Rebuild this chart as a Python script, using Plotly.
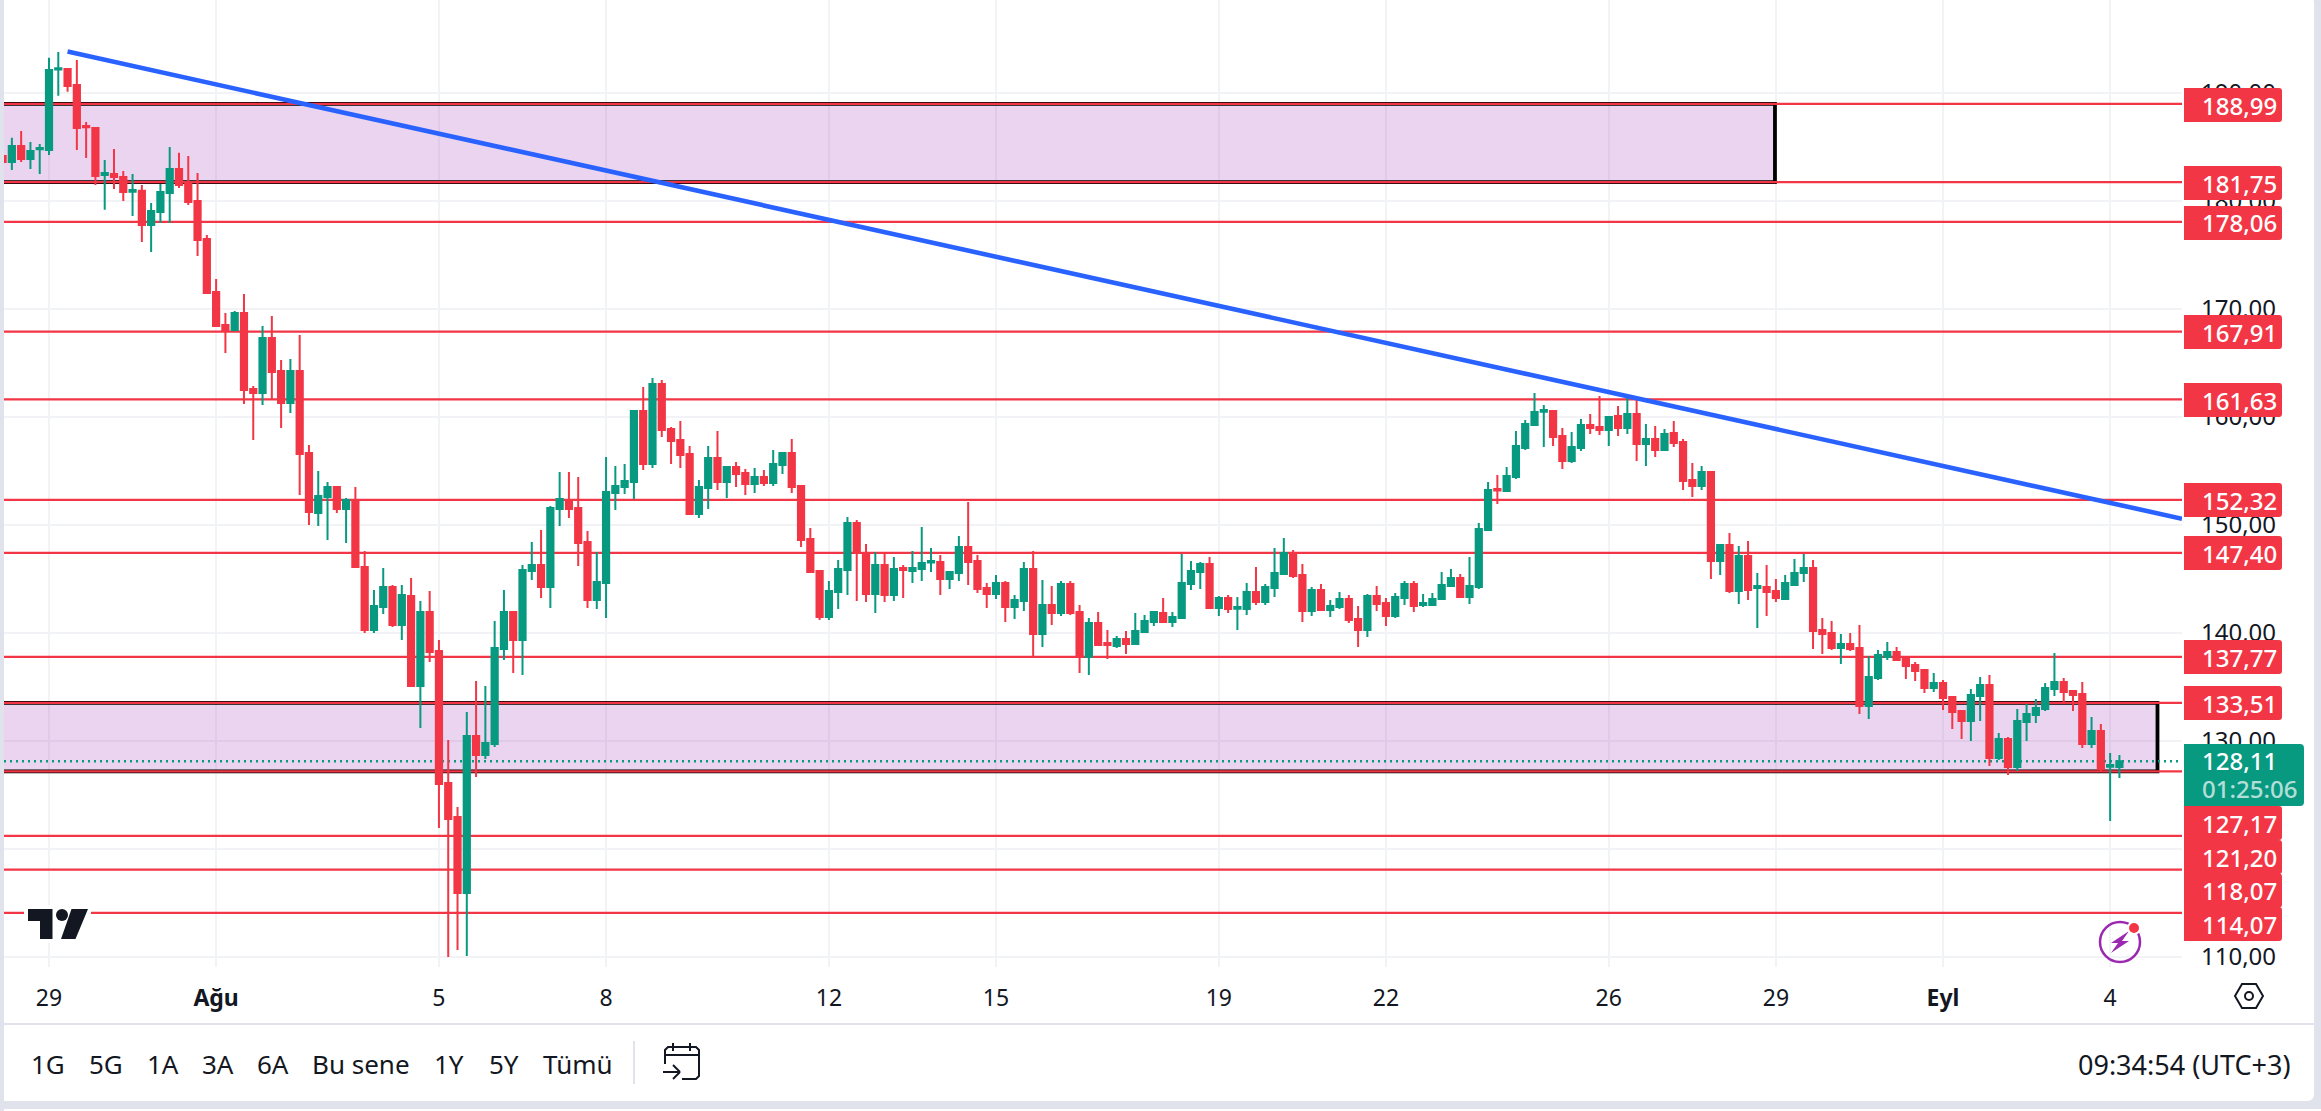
import plotly.graph_objects as go

# ---------- data ----------
first_index = -5
direction = ("rgrggggrrr" "rgrrgrgggr" "rrrrrgrrgr" "rgrrggrgrr" "ggrgrgrrrr" "grgggrggrg"
             "grrrgggggr" "grrrrggrgr" "rgrggrrrrg" "ggrrgrgrgg" "grggrrrgrg" "grgrgrrgrr"
             "grgggrgggg" "rgrggrgggr" "rgrggrrgrr" "ggrggggrgg" "grgggggrrg" "grrgrgrgrg"
             "rrrgrgrgrg" "rrgggrrrgr" "rgggrrrrgr" "rrggrgrggg" "ggrrrgrgg")
highs = [
184.18,185.85,186.49,185.47,185.29,193.26,193.81,192.24,193.07,187.33,
186.77,183.81,184.83,182.79,182.51,181.49,179.82,181.58,185.01,184.46,
184.18,182.60,176.86,172.78,169.63,169.82,171.39,162.87,168.43,169.36,
165.28,165.37,167.59,157.40,154.99,153.98,153.51,152.49,153.51,147.58,
143.97,146.01,144.43,144.43,145.08,142.95,143.88,139.34,130.07,123.86,
132.66,135.53,135.07,141.10,143.97,142.03,146.29,148.42,149.53,151.75,
154.90,154.90,154.44,149.44,147.49,156.29,155.46,155.64,160.65,162.78,
163.61,163.42,159.07,159.63,157.31,154.16,157.31,158.70,155.37,155.83,
155.18,155.28,155.09,156.94,156.76,157.96,153.70,149.72,145.83,144.81,
146.75,150.74,150.46,148.23,147.49,147.40,147.03,146.29,147.59,149.81,
147.86,147.22,145.64,148.98,152.13,147.22,144.62,145.36,144.81,143.51,
146.57,147.59,144.90,144.34,144.81,144.81,142.58,141.38,141.94,140.27,
139.71,140.18,141.84,141.66,141.94,143.23,141.94,147.31,146.66,146.57,
147.03,143.42,143.51,143.33,144.62,146.10,144.53,147.86,148.79,147.68,
146.38,144.25,144.53,143.05,143.79,143.51,142.49,143.60,144.34,143.23,
143.70,144.81,144.81,143.60,143.70,145.64,145.92,145.46,147.03,150.18,
153.98,154.63,155.36,158.70,159.72,162.22,161.11,160.64,158.98,158.61,
159.81,160.27,161.94,160.09,161.01,162.03,161.66,159.35,159.16,158.88,
159.63,157.96,155.73,155.46,154.99,148.23,149.25,148.05,148.51,145.54,
146.29,144.99,145.36,146.84,147.30,146.75,141.38,141.10,139.89,139.99,
140.72,137.85,138.41,139.15,138.69,137.76,137.30,136.65,136.28,135.63,
134.05,132.85,134.79,135.91,136.09,130.72,130.35,132.94,133.40,133.87,
135.35,138.13,135.81,134.61,135.44,132.20,131.55,128.87,128.68]
body_tops = [
184.18,185.10,185.10,184.64,184.92,192.14,192.30,192.24,190.75,186.96,
186.77,182.60,182.51,182.23,181.03,180.94,179.08,180.84,182.97,182.97,
181.77,180.01,176.49,171.58,168.52,169.63,169.63,162.59,167.32,167.32,
164.26,164.26,164.26,156.66,152.68,153.51,153.51,152.31,152.31,146.10,
142.49,144.25,144.25,143.51,143.42,141.93,141.93,138.32,126.09,122.94,
130.44,130.44,129.79,138.60,141.93,141.93,145.82,146.29,146.29,151.57,
152.40,152.31,151.57,148.42,144.71,153.05,153.60,154.07,160.55,160.55,
163.05,163.05,158.89,157.87,156.57,153.52,156.20,156.20,155.37,155.37,
154.81,154.44,154.44,155.65,156.66,156.66,153.61,148.70,145.73,143.88,
145.92,150.18,150.18,147.40,146.29,146.29,145.92,146.01,146.01,146.47,
146.66,146.57,145.64,147.96,147.96,146.66,144.16,144.62,144.62,143.05,
145.92,145.92,142.58,142.58,144.53,144.53,141.94,140.92,140.92,139.06,
139.43,139.43,140.18,141.10,141.94,141.84,141.47,144.62,145.73,146.38,
146.38,143.23,143.23,142.40,143.79,143.79,144.25,145.55,147.40,147.40,
145.36,143.97,143.97,142.49,143.14,143.14,141.29,143.42,143.42,142.77,
143.33,144.53,144.53,142.77,143.14,144.44,145.09,145.09,144.34,149.62,
153.24,153.33,154.53,157.31,159.35,160.46,160.64,160.55,158.24,157.22,
159.25,159.25,159.07,160.00,160.09,160.27,160.27,157.96,157.96,158.42,
158.51,157.68,154.16,154.90,154.90,148.14,148.14,147.12,147.12,144.34,
144.25,143.88,144.62,145.54,146.01,146.01,140.26,139.99,138.97,138.97,
138.59,135.91,137.94,138.22,138.22,137.57,137.02,136.55,135.35,135.35,
134.05,132.76,134.24,135.16,135.16,130.16,130.16,131.83,132.48,133.03,
134.89,135.44,135.44,134.61,134.33,130.90,130.90,127.75,128.11]
body_bottoms = [
183.62,183.62,183.90,183.90,184.80,184.73,192.18,190.66,186.77,186.83,
182.32,182.42,182.23,180.84,180.87,177.79,177.79,178.99,180.75,181.49,
179.92,176.40,171.49,168.43,168.06,168.06,162.50,162.22,162.22,164.17,
161.29,161.29,156.57,151.20,151.10,152.59,151.47,151.47,146.10,140.27,
140.27,142.40,140.73,140.73,135.07,135.07,138.23,125.99,122.75,115.90,
115.90,128.68,128.68,129.70,138.51,139.34,139.34,145.73,144.25,144.25,
151.47,151.47,148.32,143.04,143.04,144.62,152.96,153.51,153.98,155.64,
155.64,158.79,157.77,156.48,151.01,151.01,153.42,153.98,153.98,154.72,
153.79,153.79,153.89,153.89,155.55,153.52,148.61,145.64,141.47,141.47,
143.79,145.83,147.40,143.60,143.60,143.51,143.51,145.83,145.73,145.92,
146.51,144.99,144.99,145.55,146.57,144.07,143.60,143.60,142.40,142.40,
142.95,139.90,139.90,141.84,141.84,141.84,137.77,137.77,138.88,138.88,
138.79,138.97,138.97,140.08,141.01,141.01,141.01,141.38,144.53,145.64,
142.31,142.31,142.21,142.24,142.21,142.86,142.86,144.16,145.46,145.27,
142.03,142.03,142.12,142.12,142.40,141.19,140.27,140.27,142.68,141.57,
141.57,143.23,142.49,142.58,142.58,143.14,144.34,143.33,143.33,144.25,
149.53,153.18,153.14,154.44,157.12,159.25,160.49,158.14,155.92,155.92,
157.12,158.98,158.79,158.79,158.98,158.98,157.49,157.49,156.94,156.94,
157.59,154.07,153.60,153.60,146.66,146.66,143.88,143.88,143.97,144.16,
143.78,143.23,143.14,144.43,145.54,140.17,139.89,138.60,138.60,138.50,
133.22,133.22,135.81,137.76,137.48,136.92,136.46,134.89,134.89,133.96,
132.66,131.83,131.83,134.15,128.40,128.40,127.57,127.57,131.74,132.39,
132.94,134.79,134.52,134.24,129.70,129.70,127.38,127.60,127.57]
lows = [
183.62,182.88,183.62,182.97,182.51,184.27,189.74,190.11,184.73,183.99,
181.49,179.18,181.12,180.01,178.62,176.21,175.28,177.97,177.97,181.21,
179.64,174.91,171.49,168.43,165.93,167.94,161.20,157.87,161.11,161.57,
158.98,160.37,152.77,149.99,149.90,148.60,151.10,148.32,146.01,139.99,
139.99,141.75,140.54,139.34,134.98,131.18,137.30,121.92,109.97,110.62,
110.06,126.64,128.31,129.42,137.49,136.28,136.10,144.90,143.23,142.30,
149.90,150.64,146.19,142.30,142.21,141.38,151.38,152.86,152.40,155.09,
155.27,158.14,155.64,155.27,151.01,150.64,151.48,153.24,152.50,153.52,
152.77,152.96,153.61,153.61,154.72,152.96,147.96,145.55,141.19,141.19,
142.21,143.51,142.95,142.86,141.84,142.86,142.95,143.23,144.62,144.81,
145.64,143.51,144.07,144.81,144.44,143.70,142.31,143.14,141.01,141.29,
142.03,137.86,138.69,140.73,141.57,141.66,136.28,136.10,138.88,137.58,
138.60,138.04,138.88,140.08,140.64,141.01,140.55,141.29,143.97,144.07,
142.21,141.57,141.84,140.27,141.66,142.58,142.58,143.33,145.36,145.09,
141.01,141.57,142.12,141.47,142.21,140.92,138.69,139.62,142.03,140.64,
141.38,142.58,141.94,142.40,142.58,143.14,144.34,143.33,142.68,144.07,
149.53,151.94,153.05,154.25,156.94,159.16,157.22,157.31,155.18,155.73,
156.85,158.42,158.33,157.31,158.24,158.42,155.92,155.46,156.29,156.94,
157.22,153.23,152.59,153.23,144.99,145.36,143.69,142.67,143.04,140.45,
141.56,142.86,143.14,144.34,144.71,138.50,138.04,138.41,137.11,138.32,
132.48,132.02,135.63,137.48,137.39,135.72,135.54,134.42,134.52,132.85,
131.09,130.16,129.98,131.83,127.66,128.22,126.83,127.20,129.98,131.64,
132.76,134.15,133.59,132.76,129.33,129.33,127.20,122.57,126.55]

levels = [188.99, 181.75, 178.06, 167.91, 161.63, 152.32, 147.40, 137.77, 133.51, 127.17, 121.20, 118.07, 114.07]
level_labels = ["188,99", "181,75", "178,06", "167,91", "161,63", "152,32", "147,40", "137,77", "133,51", "127,17", "121,20", "118,07", "114,07"]
badge_centres_px = [105, 183, 223, 332, 400, 500, 553, 657, 703, 823, 857, 890.5, 924]  # layout only
last_price = 128.11
last_label = "128,11"
countdown = "01:25:06"
zones = [(188.99, 181.75, 185.9), (133.51, 127.17, 227.1)]
trend_x = [2, 229.74]
trend_y = [193.84, 150.57]
price_ticks = [110, 120, 130, 140, 150, 160, 170, 180, 190]
price_tick_labels = ["110,00", "120,00", "130,00", "140,00", "150,00", "160,00", "170,00", "180,00", "190,00"]
date_ticks = [0, 18, 42, 60, 84, 102, 126, 144, 168, 186, 204, 222]
date_tick_labels = ["29", "<b>Ağu</b>", "5", "8", "12", "15", "19", "22", "26", "29", "<b>Eyl</b>", "4"]
range_buttons = [("1G", 48), ("5G", 106), ("1A", 163), ("3A", 218), ("6A", 273), ("Bu sene", 361), ("1Y", 449), ("5Y", 504), ("Tümü", 578)]
clock_text = "09:34:54 (UTC+3)"

assert len(highs) == len(body_tops) == len(body_bottoms) == len(lows) == len(direction)

x_index = [first_index + i for i in range(len(highs))]
opens = [b if d == "g" else t for t, b, d in zip(body_tops, body_bottoms, direction)]
closes = [t if d == "g" else b for t, b, d in zip(body_tops, body_bottoms, direction)]

# ---------- style / layout ----------
W, H = 2321, 1111
PL, PR, PT, PB = 4, 2182, 0, 967
X_RANGE = [-4.847, 229.74]
RED, GREEN, BLUE, INK, GRID, FRAME = "#F23645", "#089981", "#2962FF", "#131722", "#F2F3F6", "#E0E3EB"
PURPLE = "#9C27B0"
FONT = "Noto Sans"

def X(px):
    return (px - PL) / (PR - PL)

def Y(py):
    return 1 - (py - PT) / (PB - PT)

def path(pts, close=True):
    s = " ".join(("M" if i == 0 else "L") + f" {X(a):.5f} {Y(b):.5f}" for i, (a, b) in enumerate(pts))
    return s + (" Z" if close else "")

def circle(cx, cy, r):
    return dict(type="circle", xref="paper", yref="paper", x0=X(cx - r), x1=X(cx + r), y0=Y(cy + r), y1=Y(cy - r))

def rrect(x0, y0, x1, y1, r):
    return (f"M {X(x0):.5f} {Y(y0):.5f} L {X(x1-r):.5f} {Y(y0):.5f} Q {X(x1):.5f} {Y(y0):.5f} {X(x1):.5f} {Y(y0+r):.5f} "
            f"L {X(x1):.5f} {Y(y1-r):.5f} Q {X(x1):.5f} {Y(y1):.5f} {X(x1-r):.5f} {Y(y1):.5f} "
            f"L {X(x0):.5f} {Y(y1):.5f} Z")

fig = go.Figure()
fig.add_trace(go.Candlestick(
    x=x_index, open=opens, high=highs, low=lows, close=closes,
    increasing=dict(line=dict(color=GREEN, width=2), fillcolor=GREEN),
    decreasing=dict(line=dict(color=RED, width=2), fillcolor=RED),
    whiskerwidth=0, showlegend=False, hoverinfo="skip"))
fig.add_trace(go.Scatter(x=trend_x, y=trend_y, mode="lines", line=dict(color=BLUE, width=4.6),
                         showlegend=False, hoverinfo="skip"))

shapes, ann = [], []
# panel
shapes.append(dict(type="path", xref="paper", yref="paper", path=rrect(PL, -4, 2314, 1101, 7),
                   fillcolor="white", line=dict(width=0), layer="below"))
shapes.append(dict(type="rect", xref="paper", yref="paper", x0=X(PL), x1=X(2321), y0=Y(1109), y1=Y(1111),
                   fillcolor="white", line=dict(width=0), layer="below"))
shapes.append(dict(type="line", xref="paper", yref="paper", x0=X(PL), x1=X(2314), y0=Y(1024), y1=Y(1024),
                   line=dict(color=FRAME, width=2), layer="below"))
shapes.append(dict(type="line", xref="paper", yref="paper", x0=X(634), x1=X(634), y0=Y(1041), y1=Y(1084),
                   line=dict(color=FRAME, width=2), layer="below"))
# zones
for top, bottom, right in zones:
    shapes.append(dict(type="rect", xref="x", yref="y", x0=-10, x1=right, y0=bottom, y1=top, layer="between",
                       fillcolor="rgba(156,39,176,0.2)", line=dict(color="black", width=3.8)))
# levels (same subplot refs as the zones so they stack above them)
for lv in levels:
    shapes.append(dict(type="line", xref="x", yref="y", x0=X_RANGE[0], x1=X_RANGE[1], y0=lv, y1=lv, layer="between",
                       line=dict(color=RED, width=2.2)))
# last price
shapes.append(dict(type="line", xref="x", yref="y", x0=X_RANGE[0], x1=X_RANGE[1], y0=last_price, y1=last_price, layer="between",
                   line=dict(color=GREEN, width=2.4, dash="2px,4px")))
# badges
BADGE_FONT = dict(family=FONT, size=24, color="white", weight=500)
for lab, c in zip(level_labels, badge_centres_px):
    shapes.append(dict(type="path", xref="paper", yref="paper", path=rrect(2184, c - 17, 2282, c + 17, 3),
                       fillcolor=RED, line=dict(width=0), layer="above"))
    ann.append(dict(xref="paper", yref="paper", x=X(2200), y=Y(c), text=lab, showarrow=False, xanchor="left",
                    yanchor="middle", font=BADGE_FONT))
shapes.append(dict(type="path", xref="paper", yref="paper", path=rrect(2184, 744, 2304, 806, 4),
                   fillcolor=GREEN, line=dict(width=0), layer="above"))
ann.append(dict(xref="paper", yref="paper", x=X(2200), y=Y(760), text=last_label, showarrow=False, xanchor="left",
                yanchor="middle", font=BADGE_FONT))
ann.append(dict(xref="paper", yref="paper", x=X(2200), y=Y(788), text=countdown, showarrow=False, xanchor="left",
                yanchor="middle", font=dict(family=FONT, size=24, color="rgba(255,255,255,0.7)", weight=500)))
# toolbar
for t, cx in range_buttons:
    ann.append(dict(xref="paper", yref="paper", x=X(cx), y=Y(1064), text=t, showarrow=False, xanchor="center",
                    yanchor="middle", font=dict(family=FONT, size=26, color=INK)))
ann.append(dict(xref="paper", yref="paper", x=X(2293), y=Y(1064), text=clock_text, showarrow=False, xanchor="right",
                yanchor="middle", font=dict(family=FONT, size=27, color=INK)))
# calendar icon
shapes.append(dict(type="path", xref="paper", yref="paper", layer="above", line=dict(color=INK, width=2),
                   path=path([(665, 1064), (665, 1050), (668, 1047), (696, 1047), (699, 1050), (699, 1076), (696, 1079), (682, 1079)], close=False)))
for a, b, c, d in [(665, 1055, 699, 1055), (673, 1043, 673, 1051), (690, 1043, 690, 1051),
                   (663, 1072, 680, 1072), (673, 1065, 680, 1072), (680, 1072, 673, 1079)]:
    shapes.append(dict(type="line", xref="paper", yref="paper", layer="above", x0=X(a), x1=X(c), y0=Y(b), y1=Y(d),
                       line=dict(color=INK, width=2)))
# settings hexagon
shapes.append(dict(type="path", xref="paper", yref="paper", layer="above", line=dict(color=INK, width=2),
                   path=path([(2235, 996), (2242, 984), (2256, 984), (2263, 996), (2256, 1008), (2242, 1008)])))
shapes.append(dict(circle(2249, 996, 4), layer="above", line=dict(color=INK, width=2), fillcolor="white"))
# logo
shapes.append(dict(type="rect", xref="paper", yref="paper", layer="above", x0=X(24), x1=X(91), y0=Y(943), y1=Y(905),
                   fillcolor="white", line=dict(width=0)))
shapes.append(dict(type="path", xref="paper", yref="paper", layer="above", fillcolor=INK, line=dict(width=0),
                   path=path([(28, 909), (52.5, 909), (52.5, 939), (40, 939), (40, 921), (28, 921)])))
shapes.append(dict(circle(62, 915, 6), layer="above", fillcolor=INK, line=dict(width=0)))
shapes.append(dict(type="path", xref="paper", yref="paper", layer="above", fillcolor=INK, line=dict(width=0),
                   path=path([(71.5, 909), (88, 909), (75.5, 939), (61, 939)])))
# lightning badge
shapes.append(dict(circle(2120, 942, 20), layer="above", fillcolor="rgba(255,255,255,0)", line=dict(color=PURPLE, width=2.5)))
shapes.append(dict(type="path", xref="paper", yref="paper", layer="above", fillcolor=PURPLE, line=dict(width=0),
                   path=path([(2129, 931), (2111, 943), (2118, 943), (2111, 953), (2129, 941), (2122, 941)])))
shapes.append(dict(circle(2134, 928, 7), layer="above", fillcolor="white", line=dict(width=0)))
shapes.append(dict(circle(2134, 928, 5), layer="above", fillcolor=RED, line=dict(width=0)))

fig.update_layout(
    width=W, height=H, autosize=False,
    margin=dict(l=PL, r=W - PR, t=PT, b=H - PB, pad=0),
    paper_bgcolor=FRAME, plot_bgcolor="white",
    boxgap=0.33, boxgroupgap=0,
    hovermode=False, dragmode=False, showlegend=False,
    font=dict(family=FONT, size=22, color=INK),
    xaxis=dict(range=X_RANGE, tickmode="array", tickvals=date_ticks, ticktext=date_tick_labels,
               showgrid=True, gridcolor=GRID, gridwidth=2, zeroline=False, showline=False, ticks="",
               ticklabelstandoff=15, tickfont=dict(family=FONT, size=23, color=INK),
               rangeslider=dict(visible=False), fixedrange=True),
    yaxis=dict(range=[109.05, 198.62], side="right", tickmode="array", tickvals=price_ticks, ticktext=price_tick_labels,
               showgrid=True, gridcolor=GRID, gridwidth=2, zeroline=False, showline=False, ticks="",
               ticklabelstandoff=18, tickfont=dict(family=FONT, size=24, color=INK), fixedrange=True),
    shapes=shapes, annotations=ann,
)
fig.write_html("out.html", config=dict(displayModeBar=False),
               post_script="document.body.style.margin='0';document.body.style.overflow='hidden';")
